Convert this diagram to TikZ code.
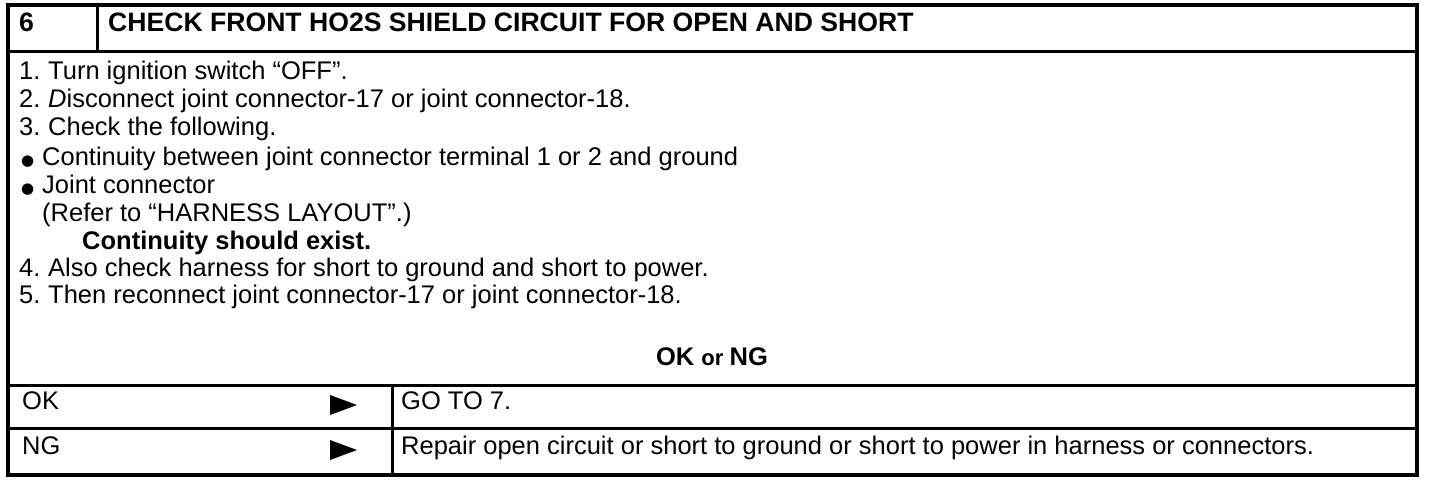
\documentclass[tikz,border=0pt]{standalone}
\usepackage{fontspec}
\setmainfont{Liberation Sans}
\newfontfamily\symfont{DejaVu Sans}
\newcommand{\stepnum}[1]{\makebox[29pt][l]{#1}}
\newcommand{\stepdot}{\makebox[21pt][l]{\symfont\fontsize{15}{15}\selectfont ●}}
\begin{document}
\begin{tikzpicture}[x=1pt, y=-1pt, outer line/.style={line width=4pt}, inner line/.style={line width=3pt},
  step text/.style={anchor=west, inner sep=0pt, text height=0.716em, text depth=0pt, font=\fontsize{25.5}{30}\selectfont},
  head text/.style={step text, font=\fontsize{26.6}{30}\selectfont\bfseries}]
\useasboundingbox (0,0) rectangle (1440,484);
% table frame
\draw[outer line] (8,5) rectangle (1417,475);
\draw[inner line] (8,52) -- (1417,52);
\draw[inner line] (97,5) -- (97,52);
\draw[inner line] (8,385) -- (1417,385);
\draw[inner line] (8,428) -- (1417,428);
\draw[inner line] (392,385) -- (392,475);
% header
\begin{scope}[every node/.style={head text}]
\node (num) at (19,28) {6};
\node (title) at (108,28) {CHECK FRONT HO2S SHIELD CIRCUIT FOR OPEN AND SHORT};
\end{scope}
% steps
\begin{scope}[every node/.style={step text}]
\node (s1) at (19,76) {\stepnum{1.}Turn ignition switch “OFF”.};
\node (s2) at (19,104) {\stepnum{2.}\textit{D}isconnect joint connector-17 or joint connector-18.};
\node (s3) at (19,132) {\stepnum{3.}Check the following.};
\node (b1) at (21,162) {\stepdot Continuity between joint connector terminal 1 or 2 and ground};
\node (b2) at (21,190) {\stepdot Joint connector};
\node (ref) at (42,218) {(Refer to “HARNESS LAYOUT”.)};
\node[font=\fontsize{25.5}{30}\selectfont\bfseries] (exist) at (82,246) {Continuity should exist.};
\node (s4) at (19,273) {\stepnum{4.}Also check harness for short to ground and short to power.};
\node (s5) at (19,300) {\stepnum{5.}Then reconnect joint connector-17 or joint connector-18.};
\node[anchor=center, font=\fontsize{25.5}{30}\selectfont\bfseries] (okng) at (712,362) {OK \fontsize{22}{30}\selectfont or \fontsize{25.5}{30}\selectfont NG};
\node (ok) at (22,406) {OK};
\node (ng) at (22,451) {NG};
\node (goto) at (401,406) {GO TO 7.};
\node (repair) at (401,451) {Repair open circuit or short to ground or short to power in harness or connectors.};
\end{scope}
% result arrows
\coordinate (okarr) at (343,405);
\coordinate (ngarr) at (343,450);
\fill (okarr) ++(-13,-10) -- ++(27,10) -- ++(-27,10) -- cycle;
\fill (ngarr) ++(-13,-10) -- ++(27,10) -- ++(-27,10) -- cycle;
\end{tikzpicture}
\end{document}
